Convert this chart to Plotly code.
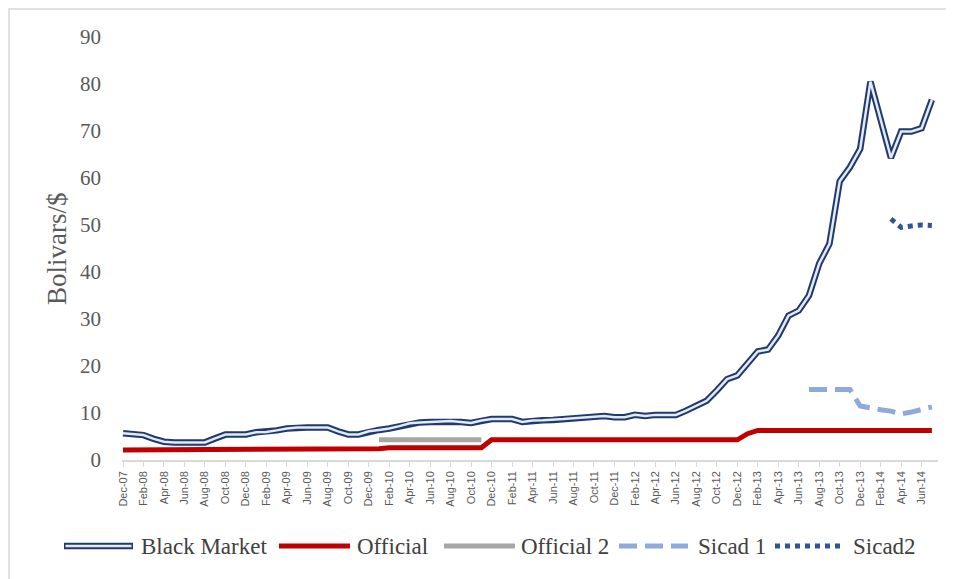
import pandas as pd
import plotly.graph_objects as go

# monthly categories Dec-07 .. Jul-14
months = pd.date_range("2007-12-01", periods=80, freq="MS").strftime("%b-%y").tolist()

black_market = [5.7, 5.5, 5.3, 4.5, 3.9, 3.75, 3.75, 3.75, 3.75, 4.6,
                5.4, 5.4, 5.45, 5.9, 5.95, 6.3, 6.7, 6.9, 6.9, 6.9,
                6.9, 6.1, 5.45, 5.45, 6.1, 6.4, 6.7, 7.2, 7.8, 8.0,
                8.1, 8.2, 8.3, 8.1, 7.9, 8.4, 8.7, 8.7, 8.7, 8.1,
                8.4, 8.45, 8.5, 8.7, 8.9, 9.0, 9.2, 9.35, 9.1, 9.1,
                9.6, 9.35, 9.6, 9.6, 9.6, 10.5, 11.6, 12.6, 14.8, 17.2,
                18.0, 20.5, 23.1, 23.5, 26.5, 30.7, 31.8, 35.0, 41.8, 46.0,
                59.3, 62.3, 66.2, 80.5, 72.4, 64.3, 69.9, 69.9, 70.6, 76.6]

official = [2.15] * 25 + [2.4] + [2.6] * 10 + [4.3] * 25 + [5.6] + [6.3] * 18
official[24] = 2.15

official2 = [None] * 25 + [4.3] * 11 + [None] * 44

sicad1 = [None] * 67 + [15.0, 15.0, 15.0, 15.0, 15.0, 11.5, 11.0, 10.7, 10.4, 9.8, 10.2, 10.8, 11.3]

sicad2 = [None] * 75 + [51.3, 49.5, 49.8, 50.0, 49.9]

tick_idx = list(range(0, 80, 2))

NAVY = "#1F3A6E"
INNER = "#E4E9F2"
RED = "#C00000"
GRAY = "#A6A6A6"
LBLUE = "#8EA9DB"
DBLUE = "#2F5597"

# page has an 8px body margin; plot area in page pixels
OFF = 8
W, H = 954 - OFF, 579 - OFF
L, R, T, B = 122, 938, 37, 460


def xp(px):
    return (px - L) / (R - L)


def yp(py):
    return (B - py) / (B - T)


fig = go.Figure()
fig.add_trace(go.Scatter(x=months, y=black_market, mode="lines",
                         line=dict(color=NAVY, width=6.5), showlegend=False))
fig.add_trace(go.Scatter(x=months, y=black_market, mode="lines",
                         line=dict(color=INNER, width=2.5), showlegend=False))
fig.add_trace(go.Scatter(x=months, y=official, mode="lines",
                         line=dict(color=RED, width=5), showlegend=False))
fig.add_trace(go.Scatter(x=months, y=official2, mode="lines",
                         line=dict(color=GRAY, width=5), showlegend=False))
fig.add_trace(go.Scatter(x=months, y=sicad1, mode="lines",
                         line=dict(color=LBLUE, width=5, dash="18px,8px"), showlegend=False))
fig.add_trace(go.Scatter(x=months, y=sicad2, mode="lines",
                         line=dict(color=DBLUE, width=5, dash="dot"), showlegend=False))

# legend drawn by hand
leg_y = yp(546)
items = [
    ("Black Market", 64, 133, 139),
    ("Official", 279, 350, 355),
    ("Official 2", 444, 515, 519),
    ("Sicad 1", 619, 688, 696),
    ("Sicad2", 775, 845, 851),
]
shapes = []
annotations = []
for name, s0, s1, tx in items:
    if name == "Black Market":
        shapes.append(dict(type="line", xref="paper", yref="paper", x0=xp(s0), x1=xp(s1),
                           y0=leg_y, y1=leg_y, line=dict(color=NAVY, width=6.5)))
        shapes.append(dict(type="line", xref="paper", yref="paper", x0=xp(s0 + 1.5), x1=xp(s1 - 1.5),
                           y0=leg_y, y1=leg_y, line=dict(color=INNER, width=2.5)))
    elif name == "Official":
        shapes.append(dict(type="line", xref="paper", yref="paper", x0=xp(s0), x1=xp(s1),
                           y0=leg_y, y1=leg_y, line=dict(color=RED, width=5)))
    elif name == "Official 2":
        shapes.append(dict(type="line", xref="paper", yref="paper", x0=xp(s0), x1=xp(s1),
                           y0=leg_y, y1=leg_y, line=dict(color=GRAY, width=5)))
    elif name == "Sicad 1":
        shapes.append(dict(type="line", xref="paper", yref="paper", x0=xp(s0), x1=xp(s1),
                           y0=leg_y, y1=leg_y, line=dict(color=LBLUE, width=5, dash="18px,8px")))
    else:
        shapes.append(dict(type="line", xref="paper", yref="paper", x0=xp(s0), x1=xp(s1),
                           y0=leg_y, y1=leg_y, line=dict(color=DBLUE, width=5, dash="dot")))
    annotations.append(dict(text=name, xref="paper", yref="paper", x=xp(tx), y=leg_y,
                            xanchor="left", yanchor="middle", showarrow=False,
                            font=dict(family="Liberation Serif", size=23, color="#404040")))

# y axis title
annotations.append(dict(text="Bolivars/$", xref="paper", yref="paper", x=xp(57), y=yp(249),
                        xanchor="center", yanchor="middle", textangle=-90, showarrow=False,
                        font=dict(family="Liberation Serif", size=27, color="#595959")))

# chart border (top and left edges visible)
shapes.append(dict(type="rect", xref="paper", yref="paper", x0=xp(9), x1=xp(990),
                   y0=yp(620), y1=yp(9), line=dict(color="#D9D9D9", width=1.5), layer="below"))

fig.update_layout(
    width=W, height=H,
    margin=dict(l=L - OFF, r=954 - R, t=T - OFF, b=H - (B - OFF)),
    paper_bgcolor="white", plot_bgcolor="white",
    showlegend=False,
    shapes=shapes, annotations=annotations,
    xaxis=dict(type="category", range=[-0.1, 79.6],
               tickvals=[months[i] for i in tick_idx], ticktext=[months[i] for i in tick_idx],
               tickangle=-90, ticks="outside", ticklen=5, tickcolor="#D9D9D9",
               showline=True, linecolor="#D9D9D9", linewidth=1.5, showgrid=False,
               tickfont=dict(family="Liberation Sans", size=11, color="#595959")),
    yaxis=dict(range=[0, 90], dtick=10, showgrid=False, zeroline=False, showline=False,
               ticks="", ticklabelstandoff=20,
               tickfont=dict(family="Liberation Serif", size=21, color="#595959")),
)

fig.write_html("out.html")
